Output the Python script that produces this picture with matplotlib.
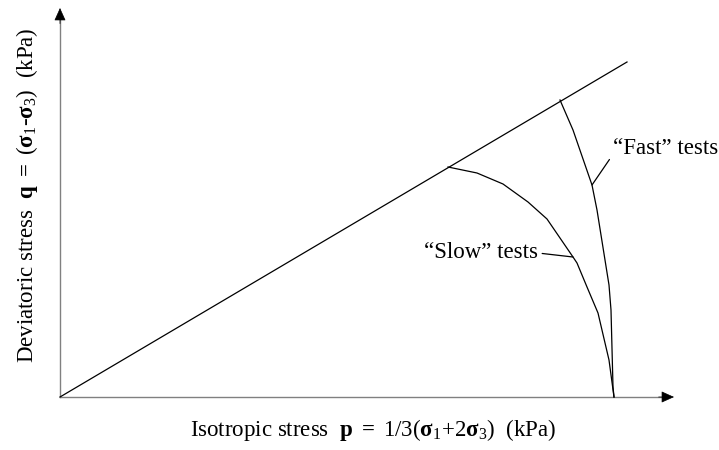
import matplotlib
matplotlib.use("Agg")
import matplotlib.pyplot as plt

plt.rcParams["font.family"] = ["Liberation Serif", "DejaVu Serif"]
plt.rcParams["mathtext.fontset"] = "custom"
plt.rcParams["mathtext.rm"] = "Liberation Serif"
plt.rcParams["mathtext.it"] = "Liberation Serif:italic"
plt.rcParams["mathtext.bf"] = "Liberation Serif:bold"

# Stress paths in p-q space (kPa)
slow_p = [194, 208.5, 221.5, 234, 243.5, 250, 256.5, 258.5, 263.5, 269, 274.5, 277]
slow_q = [115, 112, 106.5, 97.5, 89, 79.5, 70, 67, 55, 42, 18.5, 0]

fast_p = [250, 256.5, 266, 268.5, 274.5, 275.5, 276.5, 277]
fast_q = [148.5, 133.5, 106, 93.5, 56, 43.5, 5, 0]

# Failure line q = M p
line_p = [0, 283.5]
line_q = [0, 167.5]

p_max, q_max = 307, 194.5

W, H = 719, 450
fig = plt.figure(figsize=(W / 100, H / 100), dpi=100)
x0, y0 = 60, 397
x1, y1 = 674, 8
ax = fig.add_axes([x0 / W, 1 - y0 / H, (x1 - x0) / W, (y0 - y1) / H])
ax.set_xlim(0, p_max)
ax.set_ylim(0, q_max)
ax.axis("off")

# Axes with arrowheads
grey = "#808080"
ax.plot([0, 0.985], [0, 0], color=grey, lw=1.0, transform=ax.transAxes, clip_on=False)
ax.plot([0, 0], [0, 0.985], color=grey, lw=1.0, transform=ax.transAxes, clip_on=False)
head = "-|>,head_length=0.8,head_width=0.36"
ax.annotate("", xy=(1, 0), xytext=(0.975, 0), xycoords="axes fraction",
            arrowprops=dict(arrowstyle=head, color="black", lw=0.5, shrinkA=0, shrinkB=0))
ax.annotate("", xy=(0, 1), xytext=(0, 0.96), xycoords="axes fraction",
            arrowprops=dict(arrowstyle=head, color="black", lw=0.5, shrinkA=0, shrinkB=0))

ax.plot(line_p, line_q, color="black", lw=0.9, clip_on=False)
ax.plot(slow_p, slow_q, color="black", lw=0.9, clip_on=False)
ax.plot(fast_p, fast_q, color="black", lw=0.9, clip_on=False)

fs = 16.5
ax.annotate("\u201cSlow\u201d tests", xy=(256.5, 70), xytext=(239, 72),
            ha="right", va="center", fontsize=fs,
            arrowprops=dict(arrowstyle="-", color="black", lw=0.9,
                            shrinkA=1, shrinkB=0, relpos=(1, 0.5)))
ax.annotate("\u201cFast\u201d tests", xy=(266, 106), xytext=(276.5, 124.5),
            ha="left", va="center", fontsize=fs,
            arrowprops=dict(arrowstyle="-", color="black", lw=0.9,
                            shrinkA=1, shrinkB=0, relpos=(0, 0.2)))

fig.text(373 / W, 1 - 430 / H,
         r"Isotropic stress  $\mathbf{p}$ $\mathbf{=}$ 1/3($\mathbf{\sigma}_{1}$+2$\mathbf{\sigma}_{3}$)  (kPa)",
         ha="center", va="center", fontsize=fs)
fig.text(27 / W, 1 - 195 / H,
         r"Deviatoric stress  $\mathbf{q}$ $\mathbf{=}$ ($\mathbf{\sigma}_{1}$-$\mathbf{\sigma}_{3}$)  (kPa)",
         ha="center", va="center", rotation=90, fontsize=fs)

fig.savefig("out.png", dpi=100)
